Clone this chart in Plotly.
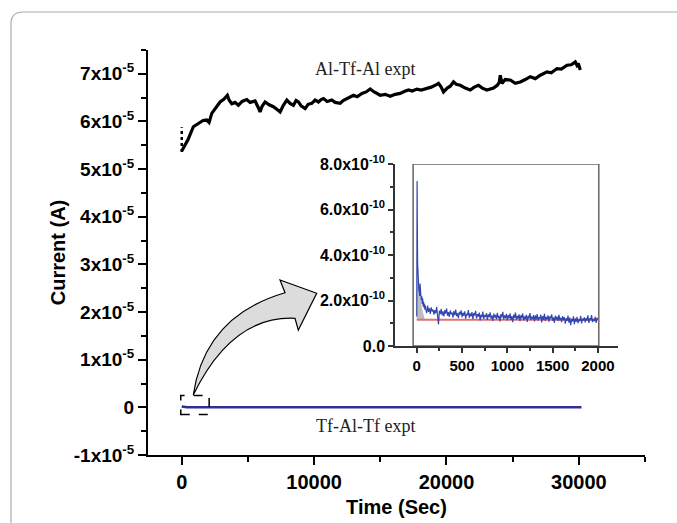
import plotly.graph_objects as go

# ---------------- data ----------------
# Al-Tf-Al experiment (main plot, black)
al_t = [0, 250, 477, 877, 1232, 1610, 1890, 2064, 2268, 2593, 2895, 3198, 3447, 3576, 3780,
        4029, 4279, 4559, 4914, 5163, 5541, 5768, 5919, 6070, 6297, 6600, 6925, 7205, 7431,
        7658, 7938, 8187, 8437, 8641, 8815, 9019, 9321, 9548, 9828, 10077, 10327, 10531, 10705,
        10985, 11340, 11589, 11967, 12194, 12474, 12723, 12973, 13253, 13608, 13933, 14235,
        14538, 14992, 15370, 15748, 16126, 16504, 16806, 17131, 17411, 17766, 18091, 18522,
        18847, 19278, 19399, 19603, 19777, 20057, 20284, 20533, 20737, 21040, 21418, 21796,
        22098, 22423, 22703, 23058, 23307, 23557, 23837, 23988, 24064, 24192, 24442, 24820,
        25198, 25576, 25954, 26332, 26710, 27088, 27594, 27920, 28350, 28676, 29106, 29431,
        29734, 29862, 29960, 30112]
al_i = [5.38, 5.50, 5.62, 5.89, 5.95, 6.02, 6.03, 5.98, 6.17, 6.30, 6.41, 6.47, 6.55, 6.45, 6.37,
        6.40, 6.34, 6.42, 6.46, 6.40, 6.43, 6.30, 6.20, 6.32, 6.41, 6.35, 6.31, 6.25, 6.20,
        6.33, 6.45, 6.38, 6.34, 6.44, 6.41, 6.33, 6.27, 6.36, 6.38, 6.45, 6.41, 6.46, 6.48,
        6.42, 6.45, 6.40, 6.38, 6.44, 6.48, 6.52, 6.55, 6.52, 6.59, 6.62, 6.68,
        6.62, 6.55, 6.57, 6.53, 6.57, 6.59, 6.63, 6.66, 6.64, 6.68, 6.66, 6.70,
        6.72, 6.78, 6.80, 6.72, 6.62, 6.70, 6.74, 6.83, 6.78, 6.76, 6.70, 6.66,
        6.72, 6.76, 6.70, 6.66, 6.68, 6.70, 6.76, 6.82, 6.97, 6.80, 6.88, 6.87,
        6.80, 6.83, 6.88, 6.94, 6.90, 6.97, 7.04, 7.02, 7.11, 7.10, 7.18, 7.19,
        7.25, 7.18, 7.22, 7.08]
al_start_t = [0, 0]
al_start_i = [5.36, 5.88]
main_scale = 1e-5

# Tf-Al-Tf experiment (main plot, blue)
tf_t = [0, 400, 30200]
tf_i = [0.02, 0.0, 0.0]

# Inset: Tf-Al-Tf current (units 1e-10 A)
ins_t_early = [0, 2, 4, 6, 8, 10, 13, 16, 20, 24, 28, 32, 36, 40, 45, 50, 55, 60, 65, 70,
               75, 80, 85, 90, 95]
ins_i_early = [1.3, 3.5, 7.25, 5.8, 4.4, 3.6, 3.1, 2.7, 2.9, 2.4, 2.6, 2.2, 2.75, 2.3, 2.5,
               2.0, 2.2, 1.85, 2.1, 1.75, 1.95, 1.68, 1.85, 1.6, 1.78]
ins_i_late = [
    1.62, 1.45, 1.78, 1.50, 1.66, 1.41, 1.70, 1.52, 1.60, 1.38,
    1.58, 1.44, 1.72, 1.36, 0.95, 1.55, 1.40, 1.63, 1.35, 1.52,
    1.30, 1.58, 1.42, 1.65, 1.33, 1.49, 1.28, 1.56, 1.40, 1.47,
    1.25, 1.53, 1.36, 1.60, 1.31, 1.44, 1.22, 1.50, 1.38, 1.57,
    1.27, 1.46, 1.33, 1.52, 1.20, 1.41, 1.35, 1.58, 1.24, 1.43,
    1.30, 1.49, 1.18, 1.45, 1.34, 1.55, 1.21, 1.40, 1.29, 1.47,
    1.12, 1.38, 1.26, 1.51, 1.19, 1.36, 1.28, 1.44, 1.15, 1.39,
    1.27, 1.48, 1.20, 1.35, 1.10, 1.42, 1.25, 1.37, 1.18, 1.46,
    1.22, 1.33, 1.08, 1.40, 1.26, 1.50, 1.17, 1.34, 1.23, 1.41,
    1.12, 1.36, 1.21, 1.44, 1.15, 1.31, 1.05, 1.38, 1.24, 1.47,
    1.16, 1.32, 1.20, 1.39, 1.09, 1.35, 1.22, 1.43, 1.13, 1.30,
    1.18, 1.37, 1.06, 1.33, 1.21, 1.45, 1.14, 1.29, 1.19, 1.36,
    1.08, 1.34, 1.17, 1.40, 1.12, 1.27, 1.20, 1.38, 1.04, 1.31,
    1.15, 1.42, 1.10, 1.28, 1.18, 1.35, 1.07, 1.30, 1.21, 1.39,
    1.11, 1.26, 1.02, 1.33, 1.16, 1.29, 1.09, 1.37, 1.13, 1.24,
    1.05, 1.31, 1.14, 1.27, 0.98, 1.22, 1.10, 1.34, 1.03, 1.25,
    0.92, 1.19, 1.08, 1.30, 0.96, 1.21, 1.06, 1.28, 1.00, 1.17,
    1.09, 1.32, 0.99, 1.20, 1.12, 1.26, 1.04, 1.23, 1.11, 1.35,
    1.01, 1.22, 1.13, 1.36, 1.05, 1.19, 1.09, 1.28, 1.02, 1.24,
    1.15]
ins_t_late = list(range(100, 2001, 10))
fit_t = [0, 2010]
fit_i = [1.15, 1.15]
shade_t = [0, 2, 10, 20, 40, 60, 90, 0]
shade_i = [1.15, 3.1, 3.0, 2.6, 2.0, 1.6, 1.15, 1.15]
ins_scale = 1e-10

main_xticks = [0, 10000, 20000, 30000]
main_yticks = [-1, 0, 1, 2, 3, 4, 5, 6, 7]
ins_xticks = [0, 500, 1000, 1500, 2000]
ins_yticks = [0, 2, 4, 6, 8]

# ---------------- figure ----------------
W, H = 677, 523
L, R, T, B = 148, 32, 50, 68
pw, ph = W - L - R, H - T - B

def px(x):
    return (x - L) / pw

def py(y):
    return (H - B - y) / ph

fig = go.Figure()

fig.add_trace(go.Scatter(x=al_start_t, y=[v * main_scale for v in al_start_i], mode="lines",
                         line=dict(color="black", width=2.5, dash="dot"), showlegend=False))
fig.add_trace(go.Scatter(x=al_t, y=[v * main_scale for v in al_i], mode="lines",
                         line=dict(color="black", width=3.2), showlegend=False))
fig.add_trace(go.Scatter(x=tf_t, y=[v * main_scale for v in tf_i], mode="lines",
                         line=dict(color="#2E3192", width=2.5), showlegend=False))

# inset traces
fig.add_trace(go.Scatter(x=shade_t, y=[v * ins_scale for v in shade_i], mode="lines",
                         fill="toself", fillcolor="#BDBDBD", line=dict(width=0),
                         xaxis="x2", yaxis="y2", showlegend=False))
fig.add_trace(go.Scatter(x=fit_t, y=[v * ins_scale for v in fit_i], mode="lines",
                         line=dict(color="#E07070", width=2),
                         xaxis="x2", yaxis="y2", showlegend=False))
fig.add_trace(go.Scatter(x=ins_t_early + ins_t_late,
                         y=[v * ins_scale for v in ins_i_early + ins_i_late], mode="lines",
                         line=dict(color="#3347B0", width=1.2),
                         xaxis="x2", yaxis="y2", showlegend=False))

font_b = dict(family="Liberation Sans, Arial", color="black", weight="bold")

def sup(v):
    return f"{v}x10<sup>-5</sup>" if v != 0 else "0"

fig.update_layout(
    width=W, height=H,
    margin=dict(l=L, r=R, t=T, b=B, autoexpand=False),
    paper_bgcolor="white", plot_bgcolor="white",
    xaxis=dict(range=[-2550, 35000], showgrid=False, zeroline=False,
               showline=True, linecolor="black", linewidth=2,
               ticks="outside", ticklen=8, tickwidth=2, tickcolor="black",
               tickvals=main_xticks, ticktext=[str(v) for v in main_xticks],
               tickfont=dict(size=20, **font_b),
               minor=dict(tickvals=[5000, 15000, 25000, 35000], ticks="outside",
                          ticklen=5, tickwidth=2, tickcolor="black"),
               title=dict(text="Time (Sec)", font=dict(size=20, **font_b), standoff=8)),
    yaxis=dict(range=[-1e-5, 7.5e-5], showgrid=False, zeroline=False,
               showline=True, linecolor="black", linewidth=2,
               ticks="outside", ticklen=8, tickwidth=2, tickcolor="black",
               tickvals=[v * main_scale for v in main_yticks],
               ticktext=[sup(v) for v in main_yticks],
               tickfont=dict(size=19, **font_b),
               minor=dict(tickvals=[(v + 0.5) * main_scale for v in main_yticks],
                          ticks="outside", ticklen=5, tickwidth=2, tickcolor="black"),
               title=dict(text="Current (A)", font=dict(size=20, **font_b), standoff=3)),
    xaxis2=dict(domain=[px(395), px(618)], anchor="y2", range=[-240, 2222],
                showgrid=False, zeroline=False, showline=True, linecolor="#333",
                linewidth=1.5, ticks="outside", ticklen=5, tickwidth=1.5, tickcolor="#333",
                tickvals=ins_xticks, ticktext=[str(v) for v in ins_xticks],
                tickfont=dict(size=15, **font_b),
                minor=dict(tickvals=[250, 750, 1250, 1750], ticks="outside", ticklen=3,
                           tickwidth=1.5, tickcolor="#333")),
    yaxis2=dict(domain=[py(346), py(164)], anchor="x2", range=[0, 8e-10],
                showgrid=False, zeroline=False, showline=True, linecolor="#333",
                linewidth=1.5, ticks="outside", ticklen=5, tickwidth=1.5, tickcolor="#333",
                tickvals=[v * ins_scale for v in ins_yticks],
                ticktext=["0.0"] + [f"{v}.0x10<sup>-10</sup>" for v in ins_yticks[1:]],
                tickfont=dict(size=16, **font_b),
                minor=dict(tickvals=[v * ins_scale for v in [1, 3, 5, 7]], ticks="outside",
                           ticklen=3, tickwidth=1.5, tickcolor="#333")),
)

# annotations
fig.add_annotation(x=13857, y=7.11e-5, xref="x", yref="y", text="Al-Tf-Al expt",
                   showarrow=False, font=dict(family="Liberation Serif", size=18, color="#222"))
fig.add_annotation(x=13857, y=-0.40e-5, xref="x", yref="y", text="Tf-Al-Tf expt",
                   showarrow=False, font=dict(family="Liberation Serif", size=18, color="#222"))

# inset frame
fig.add_shape(type="rect", xref="x2", yref="y2", x0=-40, x1=2010, y0=0, y1=8e-10,
              line=dict(color="#666", width=1.5), layer="below")
# dashed zoom box
fig.add_shape(type="rect", xref="x", yref="y", x0=-75, x1=2070, y0=-0.15e-5, y1=0.25e-5,
              line=dict(color="black", width=1.5, dash="dash"))

# curved arrow (paper coords)
def P(x, y):
    return f"{px(x):.4f},{py(y):.4f}"

arrow = (f"M {P(193.3,395)} Q {P(204.85,316.15)} {P(285,292.7)} L {P(280,280)} "
         f"L {P(316.7,293.3)} L {P(298.3,330)} L {P(295,318.3)} "
         f"Q {P(231.85,315.35)} {P(193.3,395)} Z")
fig.add_shape(type="path", xref="paper", yref="paper", path=arrow,
              fillcolor="#DCDCDC", line=dict(color="black", width=1.2))

# outer rounded frame
frame = (f"M {P(11,540)} L {P(11,24)} Q {P(11,12)} {P(23,12)} L {P(700,12)}")
fig.add_shape(type="path", xref="paper", yref="paper", path=frame,
              line=dict(color="#AAAAAA", width=1.2))

fig.write_html("out.html", config={"displayModeBar": False},
               post_script="document.body.style.margin='0';document.body.style.overflow='hidden';")
